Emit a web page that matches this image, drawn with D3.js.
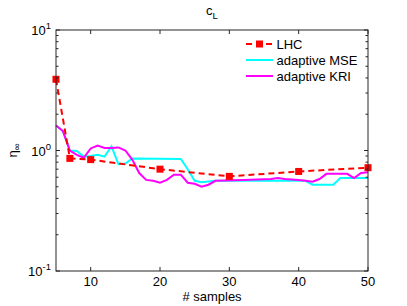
<!DOCTYPE html>
<html>
<head>
<meta charset="utf-8">
<script src="https://cdn.jsdelivr.net/npm/d3@7"></script>
<style>
body { margin: 0; background: #fff; }
text { font-family: "Liberation Sans", Arial, sans-serif; fill: #000; }
</style>
</head>
<body>
<div id="chart"></div>
<script>
// sample counts / values
var lhcN = [5, 7, 10, 20, 30, 40, 50];
var lhcVal = [3.9, 0.86, 0.84, 0.70, 0.61, 0.67, 0.72];

var mseN = [5, 6, 7, 8, 9, 10, 11, 12, 13, 14, 15, 16, 23, 24, 25, 26, 28, 41, 42, 45, 46, 50];
var mseVal = [1.61, 1.45, 1.0, 0.99, 0.89, 0.90, 0.92, 0.89, 1.08, 0.77, 0.78, 0.86, 0.85, 0.70, 0.56, 0.545, 0.56, 0.56, 0.52, 0.52, 0.59, 0.59];

var kriN = [5, 6, 7, 8, 9, 10, 11, 12, 13, 14, 15, 16, 17, 18, 19, 20, 21, 22, 23, 24, 25, 26, 27, 28, 32, 36, 37, 38, 40, 41, 42, 43, 44, 47, 48, 49, 50];
var kriVal = [1.61, 1.45, 1.0, 0.92, 0.87, 1.04, 1.1, 1.05, 1.05, 1.06, 1.0, 0.84, 0.65, 0.57, 0.56, 0.54, 0.57, 0.63, 0.63, 0.54, 0.53, 0.50, 0.52, 0.56, 0.57, 0.58, 0.59, 0.58, 0.57, 0.56, 0.55, 0.58, 0.64, 0.64, 0.59, 0.65, 0.66];

var xTicks = [10, 20, 30, 40, 50];
var yTicks = [0.1, 1, 10];
var yTickExp = ["-1", "0", "1"];

var width = 407, height = 306;
var margin = {top: 30, right: 39, bottom: 35, left: 56};
var fs = "13px", fsSmall = "9.5px";

var svg = d3.select("#chart").append("svg")
    .attr("width", width)
    .attr("height", height);

var x = d3.scaleLinear().domain([5, 50]).range([margin.left, width - margin.right]);
var y = d3.scaleLog().domain([0.1, 10]).range([height - margin.bottom, margin.top]);

var axisColor = "#262626";

// minor log ticks
var minor = [];
[0.1, 1].forEach(function(d) {
  for (var k = 2; k <= 9; k++) minor.push(d * k);
});

var g = svg.append("g");

// plot data
function series(n, v) {
  return n.map(function(d, i) { return [d, v[i]]; });
}
var line = d3.line()
    .x(function(d) { return x(d[0]); })
    .y(function(d) { return y(d[1]); });

g.append("path")
    .datum(series(mseN, mseVal))
    .attr("d", line)
    .attr("fill", "none")
    .attr("stroke", "#00ffff")
    .attr("stroke-width", 2);

g.append("path")
    .datum(series(kriN, kriVal))
    .attr("d", line)
    .attr("fill", "none")
    .attr("stroke", "#ff00ff")
    .attr("stroke-width", 2);

g.append("path")
    .datum(series(lhcN, lhcVal))
    .attr("d", line)
    .attr("fill", "none")
    .attr("stroke", "#ff0000")
    .attr("stroke-width", 2)
    .attr("stroke-dasharray", "6,4");

g.selectAll("rect.mk")
    .data(series(lhcN, lhcVal))
    .enter().append("rect")
    .attr("class", "mk")
    .attr("x", function(d) { return x(d[0]) - 3.5; })
    .attr("y", function(d) { return y(d[1]) - 3.5; })
    .attr("width", 7)
    .attr("height", 7)
    .attr("fill", "#ff0000");

// box
var x0 = x.range()[0], x1 = x.range()[1], y0 = y.range()[0], y1 = y.range()[1];
svg.append("rect")
    .attr("x", x0).attr("y", y1)
    .attr("width", x1 - x0).attr("height", y0 - y1)
    .attr("fill", "none")
    .attr("stroke", axisColor)
    .attr("stroke-width", 1);

// ticks
var tk = svg.append("g").attr("stroke", axisColor).attr("stroke-width", 1);
xTicks.forEach(function(t) {
  tk.append("line").attr("x1", x(t)).attr("x2", x(t)).attr("y1", y0).attr("y2", y0 - 4);
  tk.append("line").attr("x1", x(t)).attr("x2", x(t)).attr("y1", y1).attr("y2", y1 + 4);
});
yTicks.forEach(function(t) {
  tk.append("line").attr("x1", x0).attr("x2", x0 + 4).attr("y1", y(t)).attr("y2", y(t));
  tk.append("line").attr("x1", x1).attr("x2", x1 - 4).attr("y1", y(t)).attr("y2", y(t));
});
minor.forEach(function(t) {
  tk.append("line").attr("x1", x0).attr("x2", x0 + 2.5).attr("y1", y(t)).attr("y2", y(t));
  tk.append("line").attr("x1", x1).attr("x2", x1 - 2.5).attr("y1", y(t)).attr("y2", y(t));
});

// tick labels
svg.selectAll("text.xt")
    .data(xTicks)
    .enter().append("text")
    .attr("class", "xt")
    .attr("x", function(d) { return x(d); })
    .attr("y", y0 + 15)
    .attr("text-anchor", "middle")
    .style("font-size", fs)
    .text(function(d) { return d; });

yTicks.forEach(function(t, i) {
  var tx = svg.append("text")
      .attr("x", x0 - 5)
      .attr("y", y(t) + 5)
      .attr("text-anchor", "end")
      .style("font-size", fs);
  tx.append("tspan").text("10");
  tx.append("tspan").attr("dy", -6).style("font-size", fsSmall).text(yTickExp[i]);
});

// axis labels and title
svg.append("text")
    .attr("x", (x0 + x1) / 2)
    .attr("y", 301)
    .attr("text-anchor", "middle")
    .style("font-size", fs)
    .text("# samples");

var yl = svg.append("text")
    .attr("transform", "translate(17," + ((y0 + y1) / 2) + ") rotate(-90)")
    .attr("text-anchor", "middle")
    .style("font-size", fs);
yl.append("tspan").text("η");
yl.append("tspan").attr("dy", 3).style("font-size", fsSmall).text("∞");

var tt = svg.append("text")
    .attr("x", (x0 + x1) / 2)
    .attr("y", 15)
    .attr("text-anchor", "middle")
    .style("font-size", fs);
tt.append("tspan").text("c");
tt.append("tspan").attr("dy", 4).style("font-size", fsSmall).text("L");

// legend
var legend = [
  {name: "LHC", color: "#ff0000", dash: "6,4", marker: true},
  {name: "adaptive MSE", color: "#00ffff", dash: null, marker: false},
  {name: "adaptive KRI", color: "#ff00ff", dash: null, marker: false}
];
var lg = svg.append("g").attr("transform", "translate(246,44)");
legend.forEach(function(d, i) {
  var row = lg.append("g").attr("transform", "translate(0," + (i * 16) + ")");
  row.append("line")
      .attr("x1", 0).attr("x2", 27)
      .attr("stroke", d.color)
      .attr("stroke-width", 2)
      .attr("stroke-dasharray", d.dash);
  if (d.marker) {
    row.append("rect").attr("x", 10).attr("y", -3.5).attr("width", 7).attr("height", 7).attr("fill", d.color);
  }
  row.append("text")
      .attr("x", 30.5)
      .attr("y", 4.5)
      .style("font-size", fs)
      .text(d.name);
});
</script>
</body>
</html>
